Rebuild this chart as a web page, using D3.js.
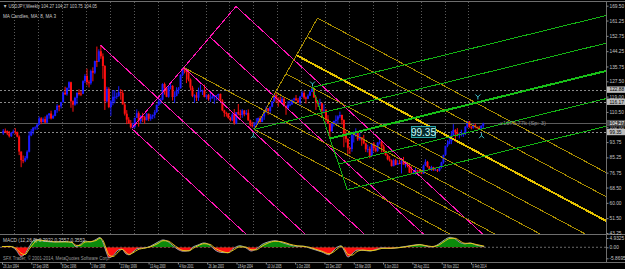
<!DOCTYPE html>
<html>
<head>
<meta charset="utf-8">
<script src="https://cdn.jsdelivr.net/npm/d3@7"></script>
<style>
  html, body { margin: 0; padding: 0; background: #000; }
  svg { display: block; font-family: "Liberation Sans", Arial, sans-serif; }
</style>
</head>
<body>
<svg id="chart"></svg>
<script>
// ---- USDJPY weekly, drawn here with one candle per month (Jul 1994 .. Aug 2014) ----
const firstBar = [1994, 6]; // July 1994 (month index 6)

const barOpen = [
  98.6, 100.0, 99.9, 98.5, 97.0, 98.9,
  99.6, 99.3, 96.8, 88.5, 83.7, 83.5, 84.8, 88.4, 97.4, 99.7, 101.8, 101.9,
  103.4, 106.9, 104.9, 106.5, 104.6, 108.6, 109.6, 106.9, 108.3, 111.5, 113.9, 113.6,
  115.9, 121.2, 120.3, 123.9, 127.0, 116.4, 114.5, 118.3, 121.0, 120.7, 120.6, 127.6,
  130.5, 127.0, 126.4, 133.2, 132.3, 138.8, 138.4, 144.2, 141.4, 136.0, 116.4, 123.3,
  113.2, 116.3, 118.9, 118.9, 119.4, 121.6, 121.0, 114.6, 109.5, 106.2, 104.2, 102.0,
  102.2, 107.2, 109.8, 105.4, 108.2, 107.6, 105.9, 109.5, 106.7, 108.0, 108.8, 110.4,
  114.4, 116.4, 117.3, 126.0, 123.9, 118.9, 124.6, 125.0, 118.8, 119.4, 122.5, 123.6,
  131.1, 134.6, 133.6, 132.7, 128.5, 124.0, 119.4, 119.7, 118.4, 121.8, 122.4, 122.4,
  118.8, 120.0, 117.6, 118.1, 119.0, 119.3, 119.8, 120.5, 116.9, 111.4, 110.0, 109.6,
  107.2, 105.9, 109.1, 104.3, 110.4, 109.5, 108.8, 111.3, 109.2, 110.0, 105.8, 103.1,
  102.6, 103.6, 104.6, 107.1, 104.9, 108.0, 110.9, 112.5, 111.0, 113.4, 116.4, 119.8,
  117.9, 117.2, 115.8, 117.8, 113.9, 112.6, 114.5, 114.7, 117.3, 118.0, 116.9, 115.8,
  119.0, 121.0, 118.5, 117.8, 119.5, 121.7, 123.2, 118.6, 115.8, 114.8, 115.3, 111.2,
  111.7, 106.4, 104.0, 99.7, 104.0, 105.5, 106.2, 108.0, 108.8, 106.0, 98.5, 95.5,
  90.6, 89.9, 97.6, 98.1, 98.6, 95.3, 96.4, 94.7, 93.0, 89.7, 90.0, 86.1,
  93.0, 90.3, 88.9, 93.5, 94.0, 91.3, 88.4, 86.5, 84.2, 83.5, 80.4, 83.7,
  81.1, 82.1, 81.8, 83.1, 81.2, 81.5, 80.5, 76.7, 76.6, 77.0, 78.2, 77.6,
  76.9, 76.2, 80.7, 82.8, 80.0, 78.3, 79.8, 78.1, 78.4, 77.9, 79.8, 82.5,
  86.7, 91.7, 92.6, 94.2, 97.5, 100.5, 99.1, 97.9, 98.1, 98.3, 98.4, 102.4,
  105.3, 102.0, 101.8, 103.2, 102.2, 101.8, 101.3, 102.8
];
const barHigh = [
  101.0, 101.3, 100.2, 99.9, 99.4, 100.7,
  101.5, 99.6, 97.5, 88.5, 86.3, 86.0, 89.2, 99.6, 101.0, 102.0, 102.5, 104.1,
  107.9, 107.6, 107.4, 108.0, 109.1, 109.9, 111.2, 109.0, 111.6, 114.8, 114.3, 116.1,
  122.0, 124.5, 124.0, 127.5, 127.3, 116.9, 118.9, 121.5, 123.1, 122.3, 128.1, 131.5,
  134.5, 128.1, 134.0, 135.3, 139.0, 146.8, 145.3, 147.6, 143.0, 136.5, 124.5, 124.2,
  117.2, 122.7, 122.6, 121.2, 124.8, 123.2, 122.6, 115.6, 111.5, 107.6, 106.0, 104.5,
  107.3, 111.9, 110.8, 108.7, 110.0, 108.3, 110.0, 109.6, 109.3, 109.1, 111.6, 114.6,
  119.4, 118.2, 126.4, 126.8, 124.4, 125.0, 126.0, 125.3, 121.9, 124.2, 124.3, 131.4,
  135.0, 135.2, 133.9, 133.8, 129.1, 125.0, 120.3, 121.5, 124.0, 125.6, 122.9, 125.7,
  120.2, 120.5, 121.4, 120.6, 119.5, 119.8, 120.6, 120.7, 117.6, 111.7, 110.6, 109.8,
  107.8, 109.8, 112.1, 110.5, 114.9, 111.7, 112.1, 111.5, 111.6, 111.9, 106.2, 105.0,
  104.8, 107.0, 107.4, 108.2, 108.2, 111.0, 113.7, 112.6, 113.6, 116.4, 120.2, 121.4,
  118.7, 119.0, 119.0, 118.7, 114.0, 116.5, 117.4, 117.4, 118.4, 119.9, 118.2, 119.4,
  122.2, 122.0, 119.0, 120.3, 122.1, 124.1, 123.5, 119.1, 116.7, 117.8, 115.6, 114.7,
  112.0, 108.7, 104.2, 104.6, 105.6, 108.6, 108.6, 110.7, 109.0, 106.4, 100.5, 95.9,
  91.0, 98.4, 99.7, 101.4, 99.6, 98.9, 96.5, 97.8, 93.4, 92.3, 91.3, 93.1,
  93.8, 92.1, 93.8, 95.0, 94.3, 92.3, 88.9, 87.2, 86.0, 84.1, 84.5, 84.5,
  83.7, 84.0, 84.0, 85.5, 82.2, 81.7, 81.5, 80.2, 77.9, 79.5, 78.3, 78.3,
  77.7, 81.2, 84.2, 83.3, 80.4, 80.6, 80.0, 79.6, 78.8, 80.4, 82.8, 86.7,
  91.7, 94.8, 96.7, 99.9, 103.7, 100.9, 101.5, 99.1, 100.6, 99.0, 102.6, 105.4,
  105.4, 102.8, 103.8, 104.1, 102.4, 102.8, 103.2, 104.5
];
const barLow = [
  97.7, 98.8, 97.6, 96.3, 96.6, 98.5,
  98.0, 96.4, 86.5, 79.8, 82.0, 82.6, 84.0, 88.0, 97.0, 98.0, 100.6, 100.5,
  103.3, 103.7, 104.6, 104.2, 104.3, 106.7, 106.3, 106.7, 108.1, 110.0, 110.9, 112.4,
  115.7, 119.9, 119.5, 122.7, 112.8, 110.6, 113.9, 114.7, 119.6, 119.3, 120.4, 126.5,
  125.3, 124.1, 125.6, 127.5, 131.5, 135.5, 138.2, 140.0, 128.9, 111.6, 115.7, 112.6,
  108.3, 114.2, 115.3, 117.6, 118.9, 117.3, 114.6, 108.5, 103.7, 103.9, 101.3, 101.3,
  101.4, 107.2, 102.3, 104.0, 104.8, 103.9, 105.8, 105.4, 105.6, 106.5, 107.0, 110.0,
  113.8, 114.8, 117.0, 120.1, 118.7, 118.4, 123.0, 116.8, 115.5, 119.2, 120.6, 123.5,
  130.3, 131.9, 126.5, 127.5, 122.4, 118.7, 115.5, 116.5, 116.6, 121.5, 119.9, 118.6,
  117.4, 116.7, 116.0, 117.9, 115.0, 116.9, 116.8, 116.6, 110.9, 107.8, 107.9, 106.7,
  105.2, 105.4, 103.4, 103.7, 108.6, 106.8, 107.2, 108.1, 108.7, 105.6, 102.4, 101.8,
  101.7, 103.1, 103.8, 104.6, 104.8, 106.1, 109.8, 108.9, 109.2, 113.1, 116.1, 115.6,
  113.4, 115.5, 115.7, 113.3, 108.9, 111.7, 113.6, 114.4, 115.3, 116.8, 115.4, 114.4,
  118.5, 117.5, 115.2, 117.6, 119.3, 121.5, 118.3, 111.6, 113.3, 113.8, 107.2, 109.7,
  104.9, 103.9, 95.8, 99.6, 102.4, 103.9, 104.0, 107.0, 103.5, 90.9, 93.5, 87.1,
  87.1, 88.4, 93.5, 96.7, 94.4, 94.6, 91.7, 92.6, 88.2, 88.0, 84.8, 86.0,
  88.5, 88.1, 88.3, 92.4, 88.1, 88.2, 86.2, 83.6, 82.9, 80.2, 80.3, 80.9,
  81.0, 81.5, 76.3, 81.4, 79.6, 79.7, 76.6, 75.9, 75.9, 75.6, 76.6, 76.5,
  75.9, 76.1, 80.6, 79.6, 78.1, 77.7, 77.9, 78.0, 77.1, 77.4, 79.1, 81.7,
  86.5, 90.9, 92.6, 92.6, 97.1, 93.8, 97.0, 95.8, 96.9, 96.6, 97.6, 101.6,
  101.8, 100.8, 101.2, 101.4, 100.8, 101.1, 101.0, 101.5
];
const barClose = [
  100.0, 99.9, 98.5, 97.0, 98.9, 99.6,
  99.3, 96.8, 88.5, 83.7, 83.5, 84.8, 88.4, 97.4, 99.7, 101.8, 101.9, 103.4,
  106.9, 104.9, 106.5, 104.6, 108.6, 109.6, 106.9, 108.3, 111.5, 113.9, 113.6, 115.9,
  121.2, 120.3, 123.9, 127.0, 116.4, 114.5, 118.3, 121.0, 120.7, 120.6, 127.6, 130.5,
  127.0, 126.4, 133.2, 132.3, 138.8, 138.4, 144.2, 141.4, 136.0, 116.4, 123.3, 113.2,
  116.3, 118.9, 118.9, 119.4, 121.6, 121.0, 114.6, 109.5, 106.2, 104.2, 102.0, 102.2,
  107.2, 109.8, 105.4, 108.2, 107.6, 105.9, 109.5, 106.7, 108.0, 108.8, 110.4, 114.4,
  116.4, 117.3, 126.0, 123.9, 118.9, 124.6, 125.0, 118.8, 119.4, 122.5, 123.6, 131.1,
  134.6, 133.6, 132.7, 128.5, 124.0, 119.4, 119.7, 118.4, 121.8, 122.4, 122.4, 118.8,
  120.0, 117.6, 118.1, 119.0, 119.3, 119.8, 120.5, 116.9, 111.4, 110.0, 109.6, 107.2,
  105.9, 109.1, 104.3, 110.4, 109.5, 108.8, 111.3, 109.2, 110.0, 105.8, 103.1, 102.6,
  103.6, 104.6, 107.1, 104.9, 108.0, 110.9, 112.5, 111.0, 113.4, 116.4, 119.8, 117.9,
  117.2, 115.8, 117.8, 113.9, 112.6, 114.5, 114.7, 117.3, 118.0, 116.9, 115.8, 119.0,
  121.0, 118.5, 117.8, 119.5, 121.7, 123.2, 118.6, 115.8, 114.8, 115.3, 111.2, 111.7,
  106.4, 104.0, 99.7, 104.0, 105.5, 106.2, 108.0, 108.8, 106.0, 98.5, 95.5, 90.6,
  89.9, 97.6, 98.1, 98.6, 95.3, 96.4, 94.7, 93.0, 89.7, 90.0, 86.1, 93.0,
  90.3, 88.9, 93.5, 94.0, 91.3, 88.4, 86.5, 84.2, 83.5, 80.4, 83.7, 81.1,
  82.1, 81.8, 83.1, 81.2, 81.5, 80.5, 76.7, 76.6, 77.0, 78.2, 77.6, 76.9,
  76.2, 80.7, 82.8, 80.0, 78.3, 79.8, 78.1, 78.4, 77.9, 79.8, 82.5, 86.7,
  91.7, 92.6, 94.2, 97.5, 100.5, 99.1, 97.9, 98.1, 98.3, 98.4, 102.4, 105.3,
  102.0, 101.8, 103.2, 102.2, 101.8, 101.3, 102.8, 104.1
];

// MACD sub-window at uneven points (decimal years)
const macdYears = [
  1994.48, 1994.82, 1995.07, 1995.28, 1995.45, 1995.61, 1995.82, 1995.99, 1996.28, 1996.70,
  1997.12, 1997.41, 1997.58, 1997.75, 1997.96, 1998.17, 1998.42, 1998.58, 1998.71, 1998.83,
  1998.96, 1999.13, 1999.34, 1999.50, 1999.67, 1999.80, 1999.96, 2000.17, 2000.47, 2000.68,
  2001.01, 2001.22, 2001.43, 2001.64, 2001.85, 2002.06, 2002.31, 2002.48, 2002.68, 2002.94,
  2003.19, 2003.40, 2003.69, 2003.94, 2004.15, 2004.44, 2004.69, 2004.90, 2005.11, 2005.36,
  2005.61, 2005.91, 2006.20, 2006.53, 2006.83, 2007.08, 2007.37, 2007.62, 2007.87, 2008.17,
  2008.33, 2008.54, 2008.67, 2008.79, 2008.96, 2009.13, 2009.34, 2009.59, 2009.88, 2010.13,
  2010.38, 2010.72, 2011.05, 2011.35, 2011.64, 2011.97, 2012.22, 2012.47, 2012.73, 2012.98,
  2013.23, 2013.44, 2013.65, 2013.86, 2014.07, 2014.32, 2014.66
];
const macdMain = [
  0.3, 0.5, -1.5, -4.8, -3.5, 0.0, 3.8, 4.1, 3.2, 2.8,
  3.0, 2.5, 0.3, 1.5, 3.4, 2.8, 4.2, 5.2, 2.5, -2.0,
  -5.6, -4.5, -1.5, -1.0, -3.5, -4.0, -2.5, -0.6, -0.3, 0.5,
  2.8, 3.9, 3.0, 0.8, -1.2, -2.1, -1.8, 0.2, 1.2, 2.3,
  1.0, -1.5, -2.8, -2.9, -0.8, 0.8, -0.3, -2.0, -1.0, 1.5,
  2.8, 3.5, 2.5, 1.2, 0.5, 0.6, -0.5, -1.5, -2.5, -4.0,
  -2.0, 0.3, 0.8, -1.5, -5.2, -3.5, -1.5, -1.6, -2.0, -1.2,
  -0.3, -0.6, -0.2, 0.4, 1.0, 1.5, 0.6, 0.2, 1.5, 3.8,
  5.3, 4.5, 2.5, 1.8, 2.3, 1.2, 0.3
];
const macdSignal = [
  0.4, 0.4, -0.6, -3.2, -3.9, -1.2, 2.2, 3.8, 3.5, 2.9,
  2.9, 2.7, 1.0, 1.0, 2.8, 3.0, 3.6, 4.8, 3.6, -0.3,
  -4.2, -4.9, -2.6, -1.1, -2.6, -3.8, -3.0, -1.3, -0.4, 0.2,
  2.0, 3.5, 3.3, 1.6, -0.4, -1.7, -1.9, -0.6, 0.8, 1.9,
  1.5, -0.5, -2.2, -2.9, -1.6, 0.2, 0.1, -1.3, -1.4, 0.6,
  2.2, 3.2, 2.9, 1.6, 0.8, 0.5, -0.1, -1.1, -2.1, -3.4,
  -2.7, -0.6, 0.5, -0.6, -3.8, -4.2, -2.3, -1.5, -1.8, -1.5,
  -0.6, -0.5, -0.3, 0.2, 0.8, 1.3, 0.9, 0.4, 1.0, 3.0,
  4.7, 4.8, 3.3, 2.1, 2.1, 1.5, 0.6
];

// axis labels
const dateTicks = [
  "1994-06-26", "1995-09-17", "1996-12-08", "1998-03-01", "1999-05-23", "2000-08-13",
  "2001-11-04", "2003-01-26", "2004-04-18", "2005-07-10", "2006-10-01", "2007-12-23",
  "2009-03-15", "2010-06-06", "2011-08-28", "2012-11-18", "2014-02-09"
];
const priceTicks = [169.50, 161.25, 152.75, 144.25, 135.75, 127.50, 119.00, 110.50,
                    102.00, 93.75, 85.25, 76.75, 68.50, 60.00, 51.50, 43.25];
const macdTicks = [4.9325, 0.00, -5.8695];

// horizontal price lines and the bid
const hLines = [122.88, 116.17, 99.35];
const bidPrice = 104.27;

// pitchforks: handle A, pivots B and C as [date, price]; extra levels along B-C
const forks = [
  { a: ["1998-08-09", 147.6], b: ["1999-11-28", 101.3], c: ["2002-02-03", 135.2],
    levels: [-0.5, 0.5, 1, 1.5], color: "#ff14b4", thick: null },
  { a: ["2002-02-03", 135.2], b: ["2005-01-16", 100.8], c: ["2005-12-04", 121.4],
    levels: [-0.5, 0.5, 1, 1.5, 2, 2.5], color: "#a88c00", thick: 1.5, thickColor: "#e6c300" },
  { a: ["2005-01-16", 100.8], b: ["2007-06-24", 124.1], c: ["2008-03-16", 95.7],
    levels: [-0.5, 0.5, 1, 1.5], color: "#14b414", thick: 0.5, thickColor: "#18c018" }
];

// small cyan arrows
const markerDates = ["2005-01-02", "2007-06-24", "2014-05-25", "2014-07-20"];
const markerPrices = [97.3, 126.0, 118.8, 97.3];
const markerKinds = ["below", "above", "above", "below"];

// ---------------------------------------------------------------------------
const W = 625, H = 269;
const right = 606, mainTop = 2, mainBottom = 234, subTop = 235, subBottom = 262;
const parse = d3.timeParse("%Y-%m-%d");

const svg = d3.select("#chart").attr("width", W).attr("height", H);
svg.append("rect").attr("width", W).attr("height", H).attr("fill", "#000");

const x = d3.scaleTime()
  .domain([parse("1994-06-26"), parse("2014-02-09")])
  .range([2, 471]);
const y = d3.scaleLinear().domain([43.25, 169.5]).range([233, 5.7]);
const ySub = d3.scaleLinear().domain([-5.8695, 4.9325]).range([258.3, 238]);

const defs = svg.append("defs");
function clip(id, x0, y0, w, h) {
  defs.append("clipPath").attr("id", id)
    .append("rect").attr("x", x0).attr("y", y0).attr("width", w).attr("height", h);
}
clip("clipMain", 0, mainTop, right, mainBottom - mainTop);
clip("clipPos", 0, subTop, right, ySub(0) - subTop);
clip("clipNeg", 0, ySub(0), right, subBottom - ySub(0));

// grid: dotted line at every new year
const grid = svg.append("g");
grid.selectAll("line")
  .data(d3.timeYear.range(new Date(1995, 0, 1), new Date(2015, 0, 1)))
  .join("line")
  .attr("x1", d => Math.round(x(d)) + 0.5).attr("x2", d => Math.round(x(d)) + 0.5)
  .attr("y1", mainTop).attr("y2", mainBottom)
  .attr("stroke", "#5a5a5a").attr("stroke-width", 1).attr("stroke-dasharray", "1,2");

// horizontal lines
const main = svg.append("g").attr("clip-path", "url(#clipMain)");
main.selectAll(".hl")
  .data(hLines)
  .join("line")
  .attr("x1", 0).attr("x2", right)
  .attr("y1", d => Math.round(y(d)) + 0.5).attr("y2", d => Math.round(y(d)) + 0.5)
  .attr("stroke", "#8a8a8a").attr("stroke-dasharray", "2,2");
main.append("line")
  .attr("x1", 0).attr("x2", right)
  .attr("y1", Math.round(y(bidPrice)) + 0.5).attr("y2", Math.round(y(bidPrice)) + 0.5)
  .attr("stroke", "#5c5c5c");

// candles
const bars = barClose.map((c, i) => ({
  date: new Date(firstBar[0], firstBar[1] + i, 15),
  o: barOpen[i], h: barHigh[i], l: barLow[i], c: c
}));
const candle = main.append("g").selectAll("g").data(bars).join("g");
candle.append("line")
  .attr("x1", d => x(d.date)).attr("x2", d => x(d.date))
  .attr("y1", d => y(d.h)).attr("y2", d => y(d.l))
  .attr("stroke", d => d.c >= d.o ? "#1a1aff" : "#ff1010").attr("stroke-width", 1);
candle.append("rect")
  .attr("x", d => x(d.date) - 1).attr("width", 2)
  .attr("y", d => y(Math.max(d.o, d.c)))
  .attr("height", d => Math.max(1, Math.abs(y(d.o) - y(d.c))))
  .attr("fill", d => d.c >= d.o ? "#1a1aff" : "#ff1010");

// pitchforks (aliased lines like the terminal draws them)
function drawFork(f) {
  const P = p => [x(parse(p[0])), y(p[1])];
  const A = P(f.a), B = P(f.b), C = P(f.c);
  const M = [(B[0] + C[0]) / 2, (B[1] + C[1]) / 2];
  const dir = [M[0] - A[0], M[1] - A[1]];
  const step = [C[0] - B[0], C[1] - B[1]];
  const at = t => [M[0] + t * step[0], M[1] + t * step[1]];
  const far = p => [p[0] + dir[0] * 20, p[1] + dir[1] * 20];
  const segs = [{ p: A, q: far(A), t: "median" }];
  segs.push({ p: at(f.levels[0]), q: at(f.levels[f.levels.length - 1]), t: "link" });
  f.levels.forEach(t => segs.push({ p: at(t), q: far(at(t)), t: t }));
  main.append("g").attr("shape-rendering", "crispEdges")
    .selectAll("line").data(segs).join("line")
    .attr("x1", d => d.p[0]).attr("y1", d => d.p[1])
    .attr("x2", d => d.q[0]).attr("y2", d => d.q[1])
    .attr("stroke", d => d.t === f.thick ? f.thickColor : f.color)
    .attr("stroke-width", d => d.t === f.thick ? 2 : 1);
}
forks.forEach(drawFork);

// cyan arrows
main.append("g").selectAll("path")
  .data(markerDates.map((d, i) => ({ x: x(parse(d)), y: y(markerPrices[i]), k: markerKinds[i] })))
  .join("path")
  .attr("d", d => d.k === "above"
    ? `M${d.x - 2.5},${d.y - 2.5}L${d.x},${d.y}L${d.x + 2.5},${d.y - 2.5}M${d.x},${d.y}L${d.x},${d.y + 2.5}`
    : `M${d.x - 2.5},${d.y + 2.5}L${d.x},${d.y}L${d.x + 2.5},${d.y + 2.5}M${d.x},${d.y}L${d.x},${d.y - 2.5}`)
  .attr("fill", "none").attr("stroke", "#3fc7d2").attr("stroke-width", 1);

// big 99.35 label
const tag = svg.append("g").attr("transform", `translate(${x(parse("2011-08-14"))},${y(99.35)})`);
tag.append("rect").attr("x", 0).attr("y", -5.5).attr("width", 24).attr("height", 11)
  .attr("fill", "#04282a").attr("stroke", "#2aa6a8");
tag.append("text").attr("x", 12).attr("y", 4).attr("text-anchor", "middle")
  .attr("font-size", 10).attr("fill", "#c8ffff").text("99.35");

svg.append("text").attr("x", 500).attr("y", y(103.2))
  .attr("font-size", 5).attr("fill", "#8c8c8c")
  .attr("textLength", 46).attr("lengthAdjust", "spacingAndGlyphs")
  .text("x1073.77k (Sp: 3)");

// MACD sub-window
const macd = macdYears.map((yr, i) => {
  const y0 = Math.floor(yr);
  const t0 = new Date(y0, 0, 1), t1 = new Date(y0 + 1, 0, 1);
  return { date: new Date(+t0 + (yr - y0) * (t1 - t0)), v: macdMain[i], s: macdSignal[i] };
});
const area = d3.area().curve(d3.curveMonotoneX)
  .x(d => x(d.date)).y0(ySub(0)).y1(d => ySub(d.v));
svg.append("line").attr("x1", 0).attr("x2", right)
  .attr("y1", ySub(0)).attr("y2", ySub(0))
  .attr("stroke", "#6a6a6a").attr("stroke-dasharray", "2,2");
svg.append("path").datum(macd).attr("d", area).attr("fill", "#0b8a0b").attr("clip-path", "url(#clipPos)");
svg.append("path").datum(macd).attr("d", area).attr("fill", "#ff1010").attr("clip-path", "url(#clipNeg)");
svg.append("path").datum(macd)
  .attr("d", d3.line().curve(d3.curveMonotoneX).x(d => x(d.date)).y(d => ySub(d.v)))
  .attr("fill", "none").attr("stroke", "#9aa0a8").attr("stroke-width", 1);
svg.append("path").datum(macd)
  .attr("d", d3.line().curve(d3.curveMonotoneX).x(d => x(d.date)).y(d => ySub(d.s)))
  .attr("fill", "none").attr("stroke", "#e8c81a").attr("stroke-width", 1);

// frame lines
const frame = svg.append("g").attr("stroke", "#6e6e6e").attr("stroke-width", 1);
frame.append("line").attr("x1", 0).attr("x2", W).attr("y1", 1.5).attr("y2", 1.5);
frame.append("line").attr("x1", 0).attr("x2", W).attr("y1", mainBottom + 0.5).attr("y2", mainBottom + 0.5);
frame.append("line").attr("x1", 0).attr("x2", W).attr("y1", subBottom + 0.5).attr("y2", subBottom + 0.5);
frame.append("line").attr("x1", right + 0.5).attr("x2", right + 0.5).attr("y1", 1.5).attr("y2", subBottom);

// right price axis
const axisR = svg.append("g").attr("transform", `translate(${right + 0.5},0)`)
  .call(d3.axisRight(y).tickValues(priceTicks).tickFormat(d3.format(".2f")).tickSize(2));
const axisS = svg.append("g").attr("transform", `translate(${right + 0.5},0)`)
  .call(d3.axisRight(ySub).tickValues(macdTicks)
    .tickFormat(d => d === 0 ? "0.00" : String(d)).tickSize(2));
[axisR, axisS].forEach(a => {
  a.select(".domain").remove();
  a.selectAll("line").attr("stroke", "#8a8a8a");
  a.selectAll("text").attr("x", 3).attr("fill", "#c4c4c4")
    .attr("font-size", 4.8).attr("font-family", "Liberation Sans, Arial, sans-serif");
});

// price boxes on the axis
const boxes = hLines.map(p => ({ p, bg: "#bdbdbd", fg: "#000" }))
  .concat([{ p: bidPrice, bg: "#4a4a4a", fg: "#fff" }]);
const box = svg.append("g").selectAll("g").data(boxes).join("g")
  .attr("transform", d => `translate(${right + 1},${y(d.p)})`);
box.append("rect").attr("x", 0).attr("y", -3.2).attr("width", 18).attr("height", 6.4)
  .attr("fill", d => d.bg);
box.append("text").attr("x", 2.5).attr("y", 1.8).attr("font-size", 4.8)
  .attr("fill", d => d.fg).text(d => d.p.toFixed(2));

// date axis (narrow terminal font)
const axisB = svg.append("g").attr("transform", `translate(0,${subBottom + 0.5})`)
  .call(d3.axisBottom(x).tickValues(dateTicks.map(parse))
    .tickFormat(d3.timeFormat("%-d %b %Y")).tickSize(2));
axisB.select(".domain").remove();
axisB.selectAll("line").attr("stroke", "#8a8a8a");
axisB.selectAll("text").attr("text-anchor", "start").attr("x", 1.5).attr("y", 1.8)
  .attr("dy", "0.72em").attr("fill", "#d2d2d2").attr("font-size", 5)
  .attr("transform", "scale(0.56,1)")
  .attr("font-family", "Liberation Sans, Arial, sans-serif");

// captions
const cap = svg.append("g").attr("fill", "#c8c8c8").attr("font-size", 5.2);
function caption(px, py, len, txt, fill) {
  cap.append("text").attr("x", px).attr("y", py)
    .attr("textLength", len).attr("lengthAdjust", "spacingAndGlyphs")
    .attr("fill", fill || null).text(txt);
}
caption(3, 8, 94, "\u25BC USDJPY,Weekly  104.27 104.27 103.75 104.05");
caption(3, 17.5, 53, "MA Candles, MA: 8, MA 3");
caption(3, 241.5, 82, "MACD (12,26,9) 0.3932 0.3557 0.3553");
caption(3, 259.5, 107, "SFX Trader, \u00A9 2001-2014, MetaQuotes Software Corp.", "#9a9a9a");
</script>
</body>
</html>
